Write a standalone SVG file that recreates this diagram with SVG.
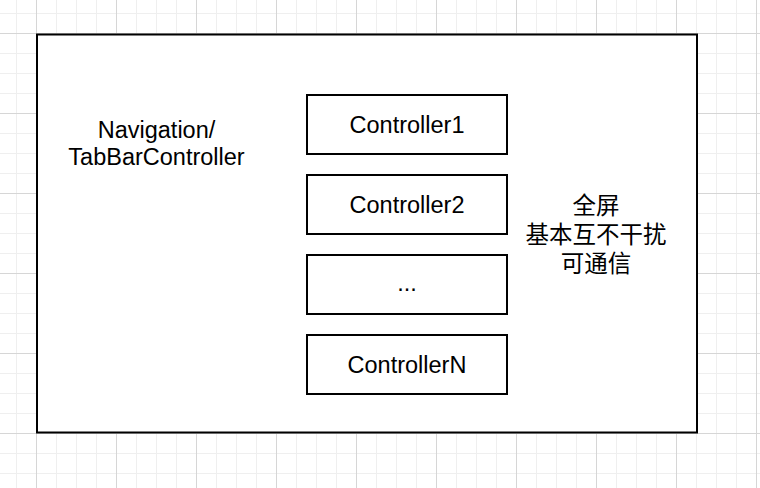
<svg xmlns="http://www.w3.org/2000/svg" width="760" height="488" viewBox="0 0 760 488">
  <style>
    .box { fill: #ffffff; stroke: #000000; stroke-width: 2; }
    .lbl { font-family: "Liberation Sans", Arial, "Noto Sans CJK SC", sans-serif; font-size: 23.5px; fill: #000000; text-anchor: middle; }
    .cjk { font-family: "Noto Sans CJK SC", "Liberation Sans", sans-serif; font-size: 23.5px; fill: #000000; text-anchor: middle; }
  </style>
  <defs>
    <pattern id="minor" patternUnits="userSpaceOnUse" x="16" y="13" width="20" height="20">
      <rect x="0" y="0" width="1" height="20" fill="#efefef"/>
      <rect x="0" y="0" width="20" height="1" fill="#efefef"/>
    </pattern>
    <pattern id="major" patternUnits="userSpaceOnUse" x="36" y="33" width="80" height="80">
      <rect x="0" y="0" width="1" height="80" fill="#d6d6d6"/>
      <rect x="0" y="0" width="80" height="1" fill="#d6d6d6"/>
    </pattern>
  </defs>
  <rect x="0" y="0" width="760" height="488" fill="#ffffff"/>
  <rect x="0" y="0" width="760" height="488" fill="url(#minor)"/>
  <rect x="0" y="0" width="760" height="488" fill="url(#major)"/>

  <g id="container">
    <rect class="box" x="37" y="34.5" width="660" height="398"/>
  </g>

  <g id="nav-label">
    <text class="lbl" x="156.5" y="137.5">Navigation/</text>
    <text class="lbl" x="156.5" y="165">TabBarController</text>
  </g>

  <g id="controller1">
    <rect class="box" x="307" y="95" width="200" height="59"/>
    <text class="lbl" x="407" y="133">Controller1</text>
  </g>
  <g id="controller2">
    <rect class="box" x="307" y="175" width="200" height="59"/>
    <text class="lbl" x="407" y="213">Controller2</text>
  </g>
  <g id="controller-ellipsis">
    <rect class="box" x="307" y="255" width="200" height="59"/>
    <text class="lbl" x="407" y="291">...</text>
  </g>
  <g id="controllerN">
    <rect class="box" x="307" y="335" width="200" height="59"/>
    <text class="lbl" x="407" y="373">ControllerN</text>
  </g>

  <g id="note">
    <text class="cjk" x="596" y="214">全屏</text>
    <text class="cjk" x="596" y="243">基本互不干扰</text>
    <text class="cjk" x="596" y="272">可通信</text>
  </g>

  <g id="connectors"></g>
</svg>
